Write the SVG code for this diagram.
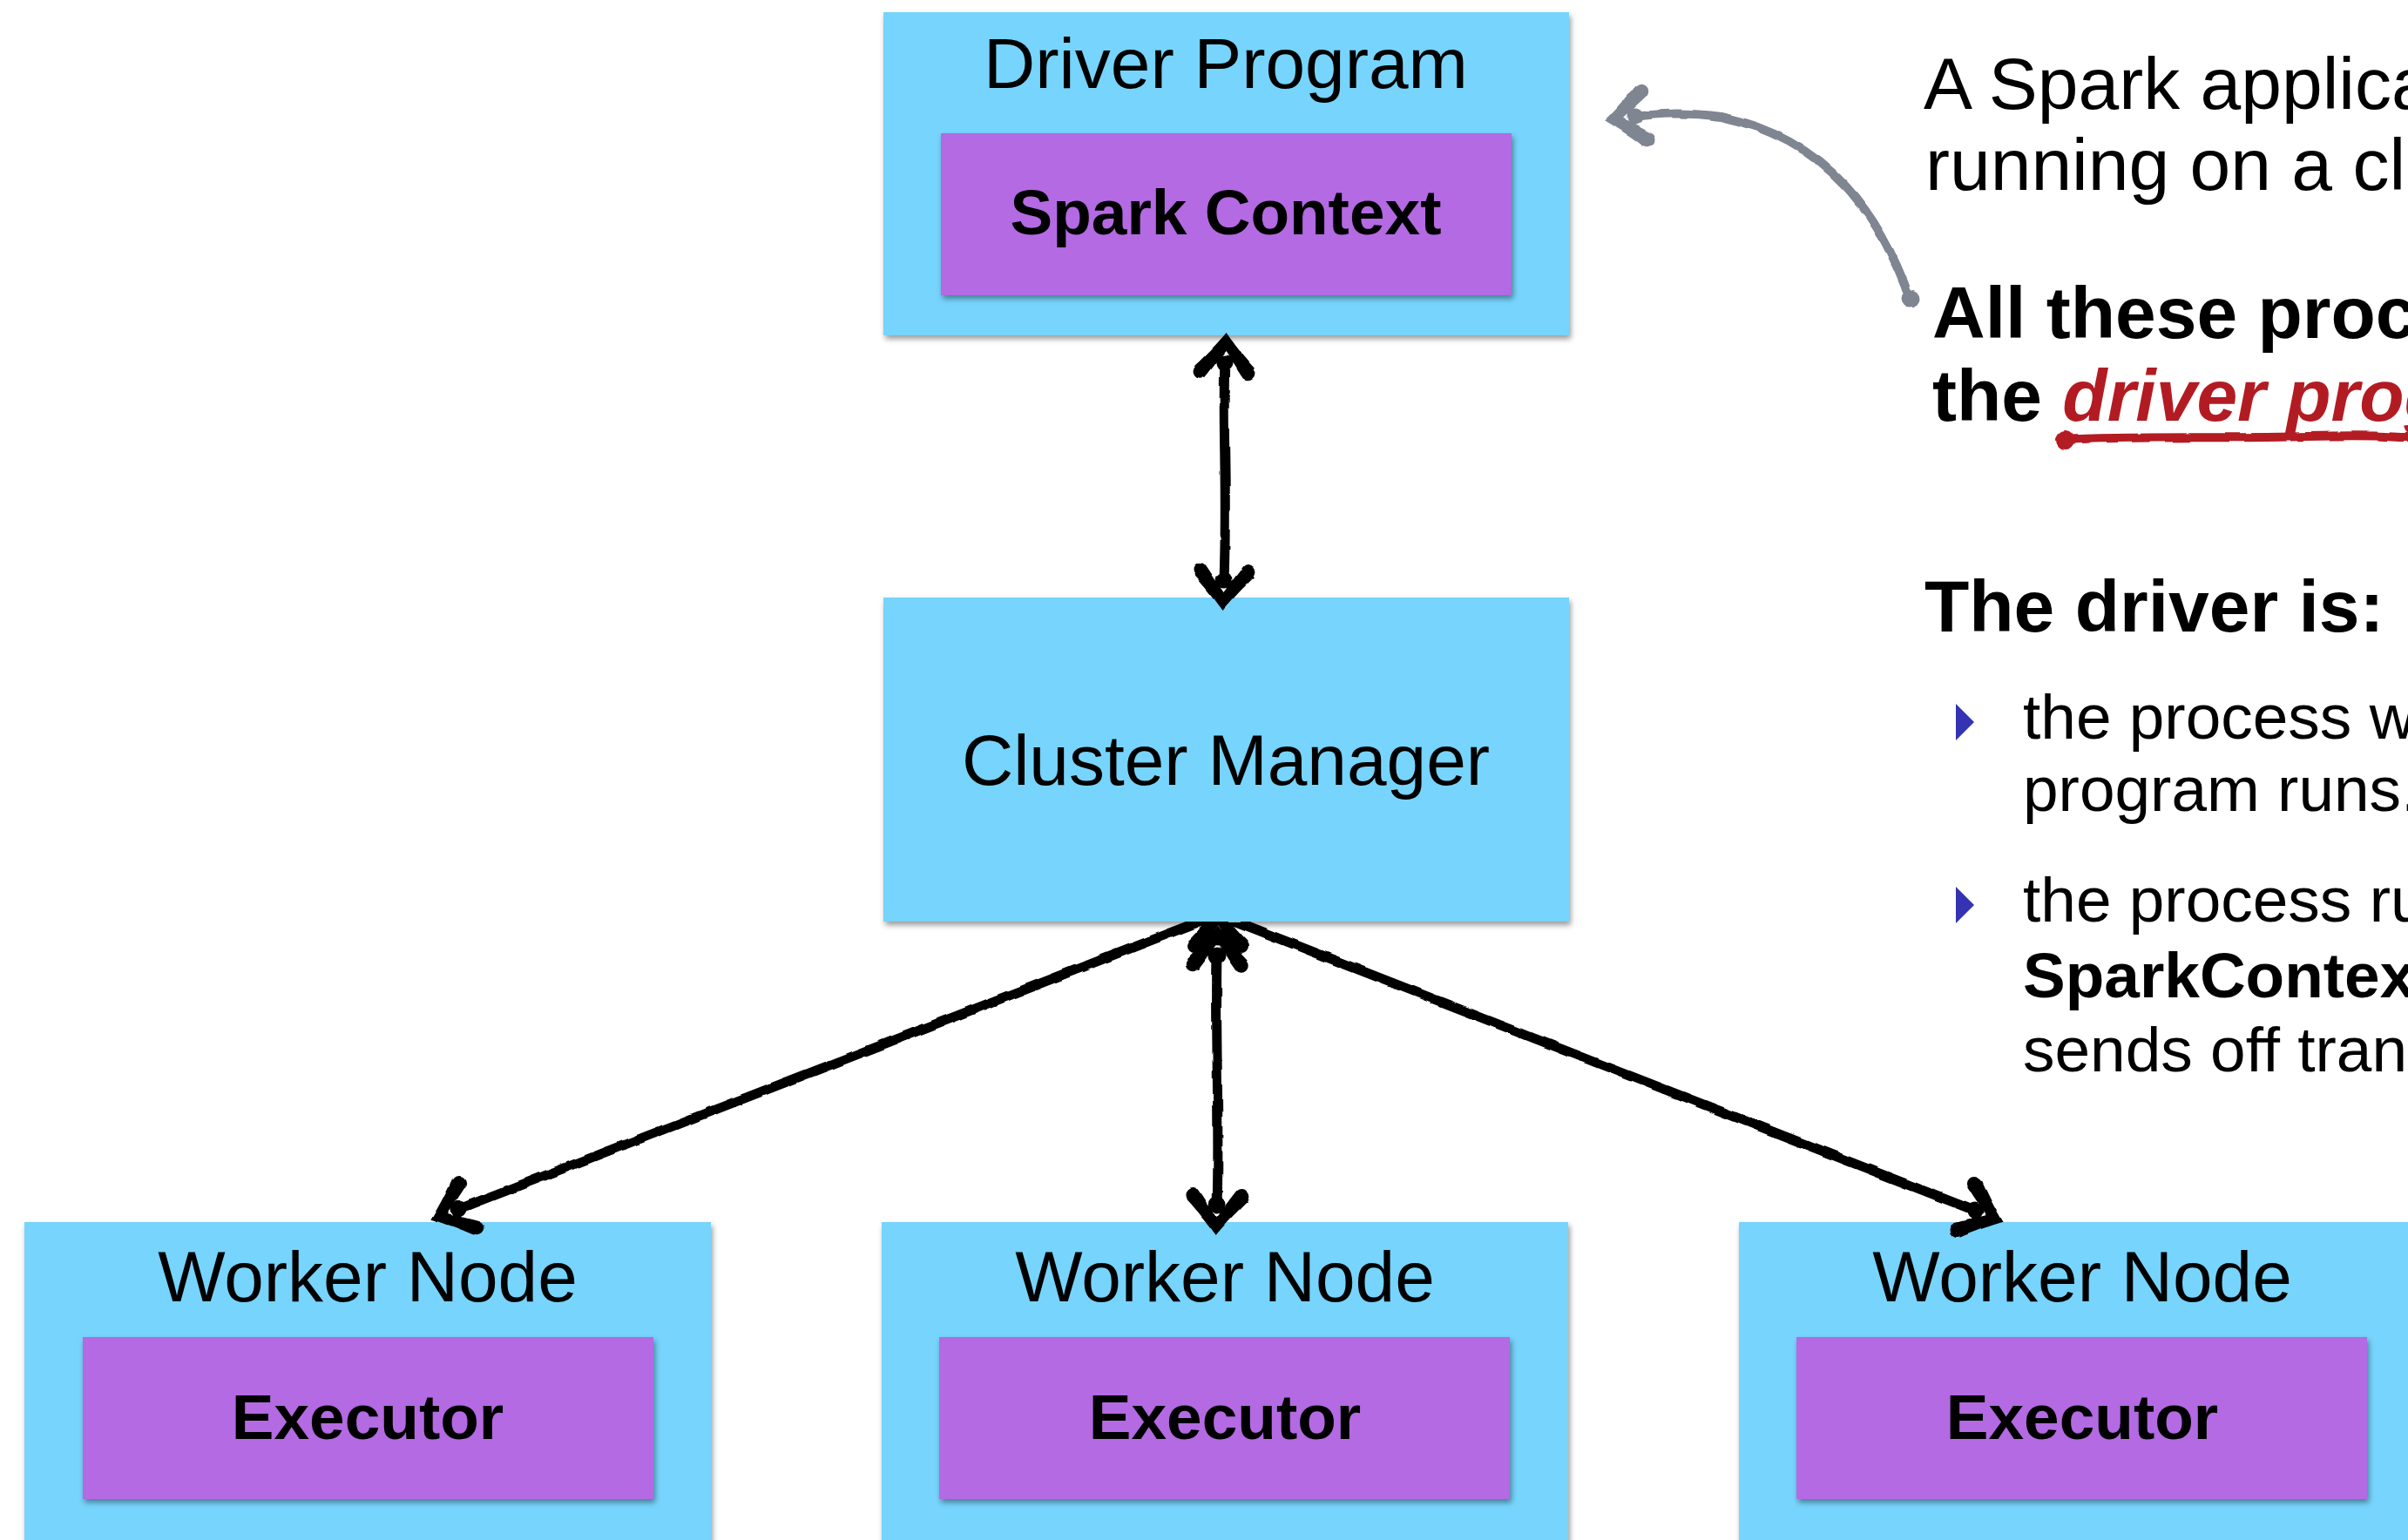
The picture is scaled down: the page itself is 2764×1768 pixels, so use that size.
<svg xmlns="http://www.w3.org/2000/svg" width="2764" height="1768" viewBox="0 0 2764 1768">
<defs>
<style>
.box{fill:#77d4fc;filter:url(#sh)}
.inner{fill:#b36ae2;filter:url(#sh)}
.lbl{font-family:"Liberation Sans",Arial,sans-serif;font-size:82px;text-anchor:middle;fill:#000}
.lblb{font-family:"Liberation Sans",Arial,sans-serif;font-size:73px;font-weight:bold;text-anchor:middle;fill:#000}
.txt{font-family:"Liberation Sans",Arial,sans-serif;font-size:84px;fill:#000}
.btxt{font-size:73px}
.conn{fill:none;stroke:#000;stroke-width:11;stroke-linecap:round;stroke-linejoin:round}
.gconn{fill:none;stroke:#7f8591;stroke-width:10;stroke-linecap:round;stroke-linejoin:round}
</style>
<filter id="sh" x="-5%" y="-5%" width="112%" height="115%">
<feDropShadow dx="2" dy="4" stdDeviation="3" flood-color="#000" flood-opacity="0.4"/>
</filter>
<filter id="wob" filterUnits="userSpaceOnUse" x="0" y="0" width="2764" height="1768">
<feTurbulence type="fractalNoise" baseFrequency="0.04" numOctaves="2" seed="3" result="n"/>
<feDisplacementMap in="SourceGraphic" in2="n" scale="4" xChannelSelector="R" yChannelSelector="G"/>
</filter>
<marker id="ah" viewBox="-30 -45 75 90" refX="0" refY="0" markerWidth="75" markerHeight="90" markerUnits="userSpaceOnUse" orient="auto-start-reverse" overflow="visible">
<g fill="#000">
<path d="M35,0 C27,-6 9,-21 -5,-35 L-17,-22 C-5,-13 6,-6 14,0 C6,6 -5,13 -17,22 L-5,35 C9,21 27,6 35,0 Z"/>
<circle cx="-11" cy="-28" r="8"/><circle cx="-11" cy="28" r="8"/><circle cx="0" cy="0" r="9.5"/>
</g>
</marker>
<marker id="ag" viewBox="-30 -45 75 90" refX="0" refY="0" markerWidth="75" markerHeight="90" markerUnits="userSpaceOnUse" orient="auto-start-reverse" overflow="visible">
<g fill="#7f8591">
<path d="M35,0 C27,-6 9,-21 -5,-35 L-17,-22 C-5,-13 6,-6 14,0 C6,6 -5,13 -17,22 L-5,35 C9,21 27,6 35,0 Z"/>
<circle cx="-11" cy="-28" r="8"/><circle cx="-11" cy="28" r="8"/><circle cx="0" cy="0" r="9.5"/>
</g>
</marker>
<clipPath id="below"><rect x="0" y="1058" width="2764" height="710"/></clipPath>
</defs>
<rect x="0" y="0" width="2764" height="1768" fill="#fff"/>

<g id="driver">
<rect class="box" x="1014" y="14" width="787" height="371"/>
<text class="lbl" x="1407" y="101">Driver Program</text>
<g id="sparkcontext">
<rect class="inner" x="1080" y="153" width="655" height="186"/>
<text class="lblb" x="1407" y="269">Spark Context</text>
</g>
</g>

<g id="cluster">
<rect class="box" x="1014" y="686" width="787" height="372"/>
<text class="lbl" x="1407" y="901">Cluster Manager</text>
</g>

<g id="worker1">
<rect class="box" x="28" y="1403" width="788" height="380"/>
<text class="lbl" x="422" y="1494">Worker Node</text>
<g id="executor1">
<rect class="inner" x="95" y="1535" width="655" height="186"/>
<text class="lblb" x="422" y="1652">Executor</text>
</g>
</g>

<g id="worker2">
<rect class="box" x="1012" y="1403" width="788" height="380"/>
<text class="lbl" x="1406" y="1494">Worker Node</text>
<g id="executor2">
<rect class="inner" x="1078" y="1535" width="655" height="186"/>
<text class="lblb" x="1406" y="1652">Executor</text>
</g>
</g>

<g id="worker3">
<rect class="box" x="1996" y="1403" width="788" height="380"/>
<text class="lbl" x="2390" y="1494">Worker Node</text>
<g id="executor3">
<rect class="inner" x="2062" y="1535" width="655" height="186"/>
<text class="lblb" x="2390" y="1652">Executor</text>
</g>
</g>

<g id="notes">
<text class="txt" x="2208" y="125">A Spark applica</text>
<text class="txt" x="2210" y="218">running on a clu</text>
<text class="txt" font-weight="bold" x="2218" y="388">All these proce</text>
<text class="txt" font-weight="bold" x="2218" y="483">the <tspan fill="#b31b23" font-style="italic">driver prog</tspan></text>
<g filter="url(#wob)">
<path d="M2370,505 C2450,500 2550,504 2650,501 S2740,503 2770,502" fill="none" stroke="#b31b23" stroke-width="10" stroke-linecap="round"/>
<circle cx="2370" cy="505" r="11" fill="#b31b23"/>
</g>
<text class="txt" font-weight="bold" x="2209" y="725">The driver is:</text>
<polygon fill="#3333b3" points="2245,808 2266,829 2245,850"/>
<text class="txt btxt" x="2322" y="848">the process w</text>
<text class="txt btxt" x="2322" y="931">program runs.</text>
<polygon fill="#3333b3" points="2245,1018 2266,1039 2245,1060"/>
<text class="txt btxt" x="2322" y="1058">the process ru</text>
<text class="txt btxt" font-weight="bold" x="2322" y="1145">SparkContex</text>
<text class="txt btxt" x="2322" y="1230">sends off tran</text>
</g>

<g id="connectors" filter="url(#wob)">
<path class="conn" d="M1406,417 C1403,480 1409,560 1405,666" marker-start="url(#ah)" marker-end="url(#ah)"/>
<g clip-path="url(#below)">
<path class="conn" d="M1398,1050 C1100,1165 800,1282 527,1388" marker-end="url(#ah)"/>
<path class="conn" d="M1398,1050 C1700,1168 2000,1285 2267,1390" marker-end="url(#ah)"/>
<path class="conn" d="M1398,1076 L1398,1077" marker-start="url(#ah)"/>
</g>
<path class="conn" d="M1397,1097 C1395,1180 1400,1300 1397,1383" marker-start="url(#ah)" marker-end="url(#ah)"/>
<path class="gconn" d="M2193,345 C2160,250 2100,160 1975,134 C1930,128 1900,131 1877,134" marker-end="url(#ag)"/>
<circle cx="2193" cy="343" r="10.5" fill="#7f8591"/>
</g>
</svg>
